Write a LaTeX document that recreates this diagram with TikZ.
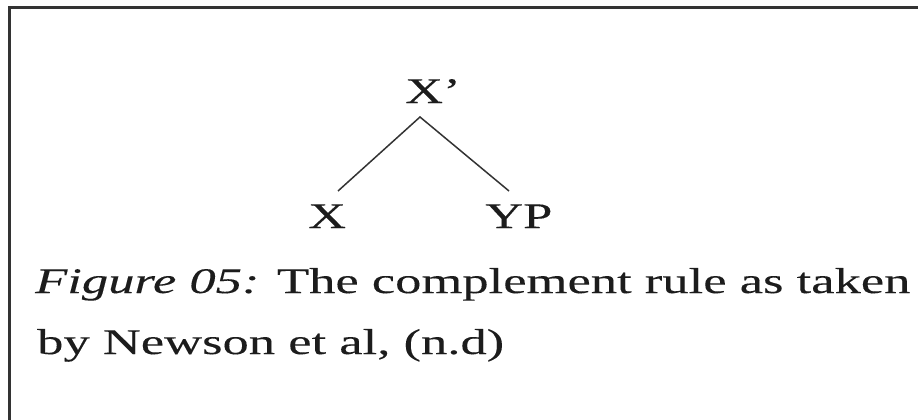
\documentclass[tikz,border=0pt]{standalone}
\usepackage{fontspec}
\setmainfont[FakeStretch=1.46,FakeBold=0.15]{Liberation Serif}
\definecolor{ink}{HTML}{1C1C1C}
\definecolor{frame}{HTML}{333333}
\begin{document}
\begin{tikzpicture}[x=1pt,y=-1pt,
  lbl/.style={inner sep=0pt,anchor=base west,text=ink,font=\fontsize{36}{43}\selectfont},
  edge/.style={draw=frame,line width=1.5pt},
  border/.style={draw=frame,line width=3pt}]
\useasboundingbox[fill=white] (0,0) rectangle (918,420);
\clip (0,0) rectangle (918,420);
\draw[border] (930,7.5) -- (9.5,7.5) -- (9.5,430);
% tree
\node[lbl] (Xp) at (405,103) {X’};
\node[lbl] (X)  at (308,228) {X};
\node[lbl] (YP) at (485,228) {YP};
\coordinate (apex) at ([shift={(15,14)}]Xp.base west);
\coordinate (xend) at ([shift={(30,-37)}]X.base west);
\coordinate (yend) at ([shift={(24,-37)}]YP.base west);
\draw[edge] (xend) -- (apex) -- (yend);
% caption
\node[lbl] (cap1) at (35,293) {\textit{Figure 05:} The complement rule as taken};
\node[lbl] (cap2) at (37,354) {by Newson et al, (n.d)};
\end{tikzpicture}
\end{document}
